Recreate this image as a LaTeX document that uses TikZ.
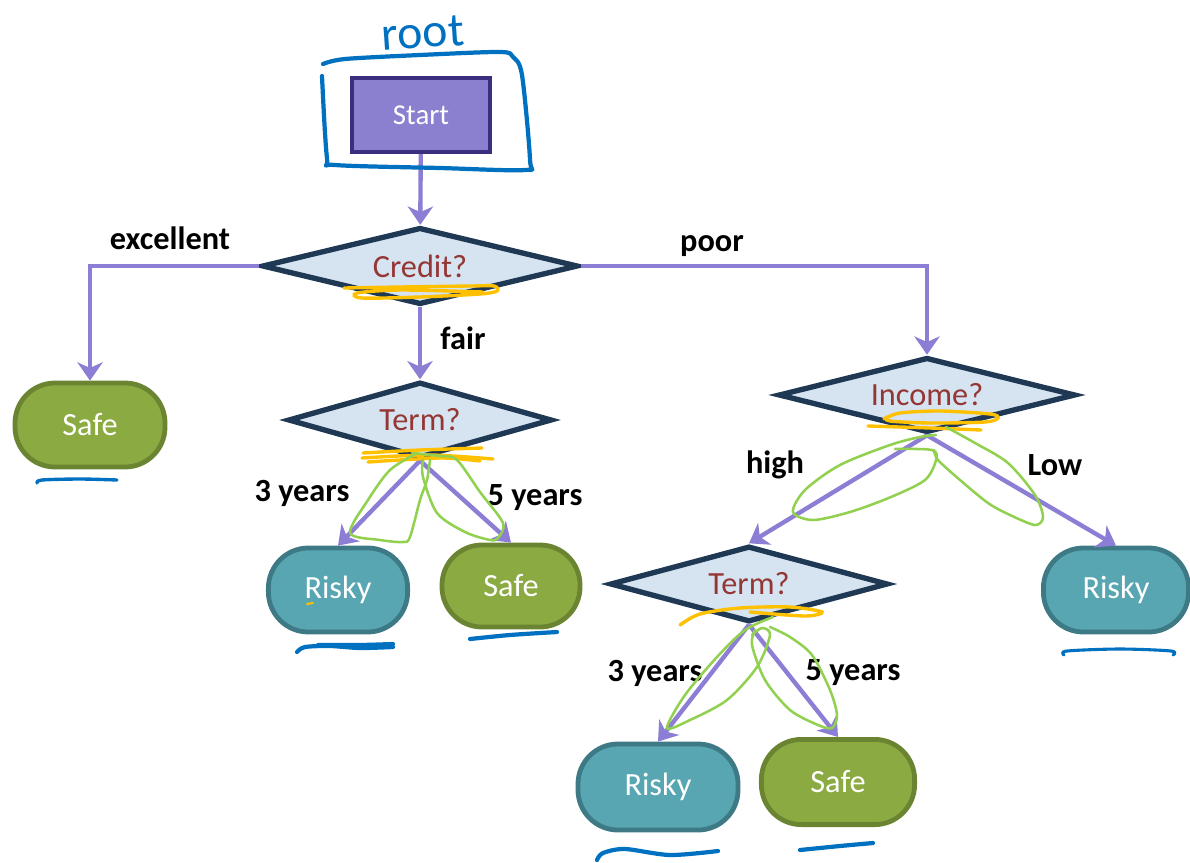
\documentclass[tikz,border=0pt]{standalone}
\usepackage{fontspec}
\setmainfont{Carlito}
\usetikzlibrary{shapes.geometric, arrows.meta, positioning}

\definecolor{startfill}{RGB}{139,128,208}
\definecolor{startdraw}{RGB}{58,46,126}
\definecolor{diafill}{RGB}{214,228,241}
\definecolor{diadraw}{RGB}{31,56,84}
\definecolor{qtext}{RGB}{148,54,52}
\definecolor{safefill}{RGB}{139,170,66}
\definecolor{safedraw}{RGB}{106,132,50}
\definecolor{riskfill}{RGB}{88,166,178}
\definecolor{riskdraw}{RGB}{62,122,134}
\definecolor{edgepurple}{RGB}{140,126,212}
\definecolor{inkblue}{RGB}{0,112,192}
\definecolor{markyellow}{RGB}{255,192,0}
\definecolor{markgreen}{RGB}{146,208,80}

\begin{document}
\begin{tikzpicture}[
        x=0.025cm, y=-0.025cm,
        startbox/.style={rectangle, draw=startdraw, fill=startfill, line width=3pt, minimum width=3.45cm, minimum height=1.85cm, text=white, font=\fontsize{20.5}{22}\selectfont},
        question/.style={diamond, aspect=4, inner sep=1pt, draw=diadraw, fill=diafill, line width=3.8pt, text=qtext, font=\fontsize{23}{24}\selectfont},
        safe/.style={rectangle, rounded corners=1cm, draw=safedraw, fill=safefill, line width=3.4pt, text=white, font=\fontsize{23}{24}\selectfont},
        risky/.style={rectangle, rounded corners=1cm, draw=riskdraw, fill=riskfill, line width=3.4pt, text=white, font=\fontsize{23}{24}\selectfont},
        branch/.style={draw=edgepurple, line width=3.1pt, -{Stealth[length=13pt, width=18pt, inset=4pt]}},
        lbl/.style={font=\bfseries\fontsize{23}{24}\selectfont},
        ink/.style={draw=inkblue, line width=3pt, line cap=round, line join=round},
        hilite/.style={draw=markyellow, line width=2.4pt, line cap=round},
        lasso/.style={draw=markgreen, line width=1.8pt, line cap=round}
    ]
        \useasboundingbox (0,0) rectangle (1190,862);

        % Nodes
        \node[startbox] (start) at (421,115) {Start};
        \node[question, minimum width=7.9cm, minimum height=1.93cm] (credit) at (420,266) {Credit?};
        \node[question, minimum width=6.6cm, minimum height=1.9cm] (term1) at (420,420) {Term?};
        \node[question, minimum width=7.43cm, minimum height=1.88cm] (income) at (927,395) {Income?};
        \node[question, minimum width=6.95cm, minimum height=1.9cm] (term2) at (749,584) {Term?};
        \node[safe, minimum width=3.75cm, minimum height=2.1cm] (safe1) at (90,425) {Safe};
        \node[risky, minimum width=3.48cm, minimum height=2.1cm] (risky1) at (338,590) {Risky};
        \node[safe, minimum width=3.45cm, minimum height=2.05cm] (safe2) at (511,586) {Safe};
        \node[risky, minimum width=3.63cm, minimum height=2.1cm] (risky2) at (1116,590) {Risky};
        \node[risky, minimum width=4cm, minimum height=2.15cm] (risky3) at (658,787) {Risky};
        \node[safe, minimum width=3.83cm, minimum height=2.13cm] (safe3) at (838,782) {Safe};

        % Connections
        \draw[branch] (start) -- (credit);
        \draw[branch] (credit.west) -| (safe1.north);
        \draw[branch] (credit.east) -| (income.north);
        \draw[branch] (credit) -- (term1);
        \draw[branch] (term1.south) -- (risky1.north);
        \draw[branch] (term1.south) -- (safe2.north);
        \draw[branch] (income.south) -- (term2.north);
        \draw[branch] (income.south) -- (risky2.north);
        \draw[branch] (term2.south) -- (risky3.north);
        \draw[branch] (term2.south) -- (safe3.north);

        % Branch labels
        \node[lbl] (lexc) at (170,238) {excellent};
        \node[lbl] (lpoor) at (712,246) {poor};
        \node[lbl] (lfair) at (463,338) {fair};
        \node[lbl] (l3a) at (302,493) {3 years};
        \node[lbl] (l5a) at (535,498) {5 years};
        \node[lbl] (lhigh) at (775,465) {high};
        \node[lbl] (llow) at (1055,465) {Low};
        \node[lbl] (l3b) at (655,673) {3 years};
        \node[lbl] (l5b) at (853,673) {5 years};

        % Hand annotations: root
        \node[text=inkblue, font=\fontsize{34}{34}\selectfont, rotate=4] (root) at (423,33) {root};
        \draw[ink] plot[smooth] coordinates {(323,64) (345,59) (420,55) (500,52) (513,57) (522,75) (530,160) (525,170) (440,168) (335,165) (327,158) (322,76)};

        % Hand annotations: yellow
        \draw[hilite] plot[smooth] coordinates {(344,288) (400,287) (470,286) (494,286) (497,291) (480,294) (420,297) (362,298) (357,293) (400,290) (483,292)};
        \draw[hilite] plot[smooth] coordinates {(363,453) (420,450) (482,448)};
        \draw[hilite] plot[smooth] coordinates {(362,458) (430,455) (493,459)};
        \draw[hilite] plot[smooth] coordinates {(368,462) (440,458) (480,461)};
        \draw[hilite] plot[smooth] coordinates {(884,419) (900,413) (940,411) (990,414) (998,418) (985,422) (930,423) (890,421) (886,417)};
        \draw[hilite] plot[smooth] coordinates {(868,426) (930,428) (981,430)};
        \draw[hilite] plot[smooth] coordinates {(680,625) (700,614) (740,608) (790,607) (822,612) (805,616) (750,612)};
        \draw[hilite, line width=1.5pt] (307,604) -- (313,603);

        % Hand annotations: green
        \draw[lasso] plot[smooth] coordinates {(417,453) (390,470) (368,500) (350,533) (380,540) (403,542) (410,537) (420,500) (427,480) (430,460)};
        \draw[lasso] plot[smooth] coordinates {(412,453) (440,456) (457,460) (480,492) (503,523) (498,538) (490,540) (465,532) (437,513) (423,477) (423,460)};
        \draw[lasso] plot[smooth] coordinates {(895,449) (932,450) (936,460) (925,480) (891,497) (850,512) (813,520) (793,512) (805,490) (840,465) (890,445) (920,437) (936,435)};
        \draw[lasso] plot[smooth] coordinates {(946,427) (975,443) (1008,463) (1035,495) (1043,517) (1035,525) (1010,515) (988,503) (960,480) (938,460) (934,450)};
        \draw[lasso] plot[smooth] coordinates {(773,617) (745,630) (717,657) (685,695) (667,728) (690,720) (727,700) (757,667) (770,635) (762,628) (752,635)};
        \draw[lasso] plot[smooth] coordinates {(770,627) (790,637) (812,655) (830,690) (837,715) (832,728) (818,725) (790,710) (765,680) (752,645) (755,630)};

        % Hand annotations: blue underlines
        \draw[ink, line width=2.4pt] plot[smooth] coordinates {(37,483) (42,480) (80,479) (117,480)};
        \draw[ink] plot[smooth] coordinates {(297,652) (305,647) (330,646) (360,648) (393,647)};
        \draw[ink] plot[smooth] coordinates {(318,645) (360,645) (393,644)};
        \draw[ink] plot[smooth] coordinates {(470,639) (510,635) (557,632)};
        \draw[ink, line width=2.2pt] plot[smooth] coordinates {(1064,655) (1067,651) (1120,649) (1171,651) (1173,655)};
        \draw[ink] plot[smooth] coordinates {(597,860) (603,853) (625,849) (670,855) (718,851)};
        \draw[ink] plot[smooth] coordinates {(800,850) (840,846) (873,843)};
    \end{tikzpicture}
\end{document}
